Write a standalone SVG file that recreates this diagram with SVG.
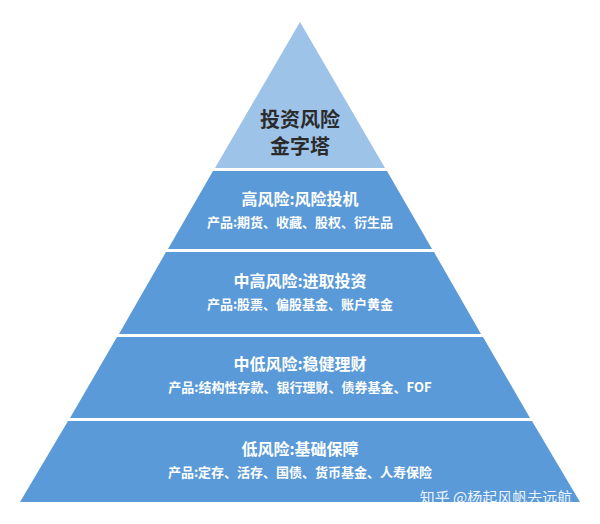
<svg xmlns="http://www.w3.org/2000/svg" width="600" height="524" viewBox="0 0 600 524">
<style>
text{font-family:"Noto Sans CJK SC","Noto Sans",sans-serif;text-anchor:middle}
.h{font-size:16px;font-weight:bold;fill:#fff}
.s{font-size:13px;font-weight:bold;fill:#fff}
.t{font-size:20px;font-weight:bold;fill:#2b2b2b}
.band{fill:#5a9ad8}
</style>
<rect width="600" height="524" fill="#fff"/>
<g id="top"><polygon points="300,22 385,168 215,168" fill="#9dc3e8"/>
<text class="t" x="300" y="127">投资风险</text><text class="t" x="300" y="154">金字塔</text></g>
<g id="high"><polygon class="band" points="213,171 387,171 432,249 168,249"/>
<text class="h" x="300" y="205">高风险:风险投机</text><text class="s" x="300" y="227">产品:期货、收藏、股权、衍生品</text></g>
<g id="midhigh"><polygon class="band" points="166,252 434,252 481,334 119,334"/>
<text class="h" x="300" y="287">中高风险:进取投资</text><text class="s" x="300" y="309">产品:股票、偏股基金、账户黄金</text></g>
<g id="midlow"><polygon class="band" points="117,337 483,337 530,418 70,418"/>
<text class="h" x="300" y="370">中低风险:稳健理财</text><text class="s" x="300" y="392">产品:结构性存款、银行理财、债券基金、FOF</text></g>
<g id="low"><polygon class="band" points="68,421 532,421 580,502 20,502"/>
<text class="h" x="300" y="455">低风险:基础保障</text><text class="s" x="300" y="477">产品:定存、活存、国债、货币基金、人寿保险</text></g>
<g id="connectors"></g>
<text x="496" y="503" style="font-size:15px;fill:#fff;fill-opacity:0.9">知乎 @杨起风帆去远航</text>
</svg>
